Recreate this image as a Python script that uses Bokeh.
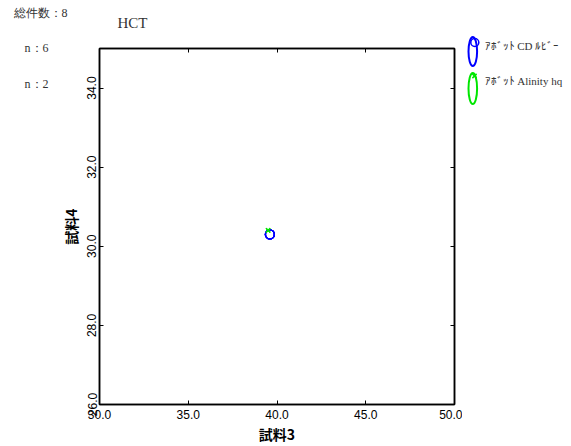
from bokeh.plotting import figure
from bokeh.layouts import row, column
from bokeh.models import Range1d, LinearAxis, FixedTicker, NumeralTickFormatter
from bokeh.core.properties import value
from bokeh.embed import file_html
from bokeh.resources import INLINE

# ---- data ----
title_text = "HCT"
total_text = "総件数：8"
x_label = "試料3"
y_label = "試料4"
series_names = ["ｱﾎﾞｯﾄ CD ﾙﾋﾞｰ", "ｱﾎﾞｯﾄ Alinity hq"]
series_counts = [6, 2]
s1_x = [39.6, 39.6, 39.6, 39.6, 39.6, 39.6]
s1_y = [30.3, 30.3, 30.3, 30.3, 30.3, 30.3]
s2_x = [39.5, 39.5]
s2_y = [30.4, 30.4]
x_ticks = [30, 35, 40, 45, 50]
y_ticks = [26, 28, 30, 32, 34]
x_lim = (30, 50)
y_lim = (26, 35)

BLUE = "#0000ff"
GREEN = "#00e600"
SERIF = "Liberation Serif"
SANS = "Liberation Sans"
CJK = "Noto Sans CJK JP"
TXT = "#333333"


def blank(w, h):
    f = figure(width=w, height=h, x_range=Range1d(0, w), y_range=Range1d(h, 0),
               output_backend="svg", toolbar_location=None, min_border=0,
               x_axis_location=None, y_axis_location=None)
    f.xgrid.visible = False
    f.ygrid.visible = False
    f.outline_line_color = None
    return f


def txt(f, x, y, t, size):
    f.text(x=[x], y=[y], text=[t], text_font=value(SERIF), text_font_size=value(size),
           text_color=TXT, text_baseline="middle", text_align="left")


# ---- top strip ----
TOP_H = 32
top = blank(571, TOP_H)
txt(top, 13, 12, total_text, "12px")
txt(top, 117, 22, title_text, "15px")

# ---- left strip (series counts) ----
BODY_H = 446 - TOP_H
left = blank(50, BODY_H)
n_y = [47, 83]
for cnt, yy in zip(series_counts, n_y):
    txt(left, 24, yy - TOP_H, f"n：{cnt}", "12px")

# ---- main plot ----
p = figure(frame_width=355, frame_height=356, output_backend="svg", toolbar_location=None,
           x_range=Range1d(*x_lim), y_range=Range1d(*y_lim),
           min_border_left=49, min_border_top=16, min_border_right=8, min_border_bottom=42,
           x_axis_location=None, y_axis_location=None)
p.xgrid.visible = False
p.ygrid.visible = False
p.outline_line_color = "black"
p.outline_line_width = 1.5


def make_axis(ticks, labels=True):
    ax = LinearAxis(ticker=FixedTicker(ticks=ticks))
    ax.major_tick_in = 4
    ax.major_tick_out = 0
    ax.minor_tick_in = 0
    ax.minor_tick_out = 0
    ax.axis_line_color = "black"
    ax.axis_line_width = 1.5
    ax.major_tick_line_color = "black"
    ax.major_tick_line_width = 1
    ax.formatter = NumeralTickFormatter(format="0.0")
    ax.major_label_text_font = SANS
    ax.major_label_text_font_size = "12px"
    ax.major_label_text_color = "black"
    ax.major_label_standoff = 3
    if not labels:
        ax.major_label_overrides = {t: "" for t in ticks}
        ax.major_label_standoff = 0
    return ax


xb = make_axis(x_ticks)
xb.major_label_standoff = 5
xb.axis_label = x_label
xb.axis_label_text_font = CJK
xb.axis_label_text_font_style = "bold"
xb.axis_label_text_font_size = "14px"
xb.axis_label_text_color = "black"
xb.axis_label_standoff = 2
p.add_layout(xb, "below")

yl = make_axis(y_ticks)
yl.major_label_orientation = "vertical"
yl.axis_label = y_label
yl.axis_label_text_font = CJK
yl.axis_label_text_font_style = "bold"
yl.axis_label_text_font_size = "14px"
yl.axis_label_text_color = "black"
yl.axis_label_standoff = 4
p.add_layout(yl, "left")

p.add_layout(make_axis(x_ticks, labels=False), "above")
p.add_layout(make_axis(y_ticks, labels=False), "right")

p.scatter(s1_x, s1_y, marker="circle", size=9, fill_color=None,
          line_color=BLUE, line_width=1.3)
p.scatter(s2_x, s2_y, marker="x", size=6, line_color=GREEN, line_width=1.3)

# ---- right strip (legend) ----
R_X0 = 462
right = blank(571 - R_X0, BODY_H)
leg_y = [45, 80]
for name, yy in zip(series_names, leg_y):
    txt(right, 484 - R_X0, yy - TOP_H, name, "11px")
# legend icons: tall ellipse with the series marker at its top
right.ellipse(x=[472.3 - R_X0], y=[51 - TOP_H], width=8.6, height=29,
              fill_color=None, line_color=BLUE, line_width=2)
right.scatter(x=[474.3 - R_X0], y=[42 - TOP_H], marker="circle", size=8,
              fill_color=None, line_color=BLUE, line_width=1.5)
right.ellipse(x=[472.3 - R_X0], y=[88 - TOP_H], width=8.6, height=31,
              fill_color=None, line_color=GREEN, line_width=2)
right.scatter(x=[474 - R_X0], y=[75.5 - TOP_H], marker="x", size=6,
              line_color=GREEN, line_width=1.5)

layout = column(top, row(column(left), p, column(right)))
open("out.html", "w").write(file_html(layout, INLINE))
